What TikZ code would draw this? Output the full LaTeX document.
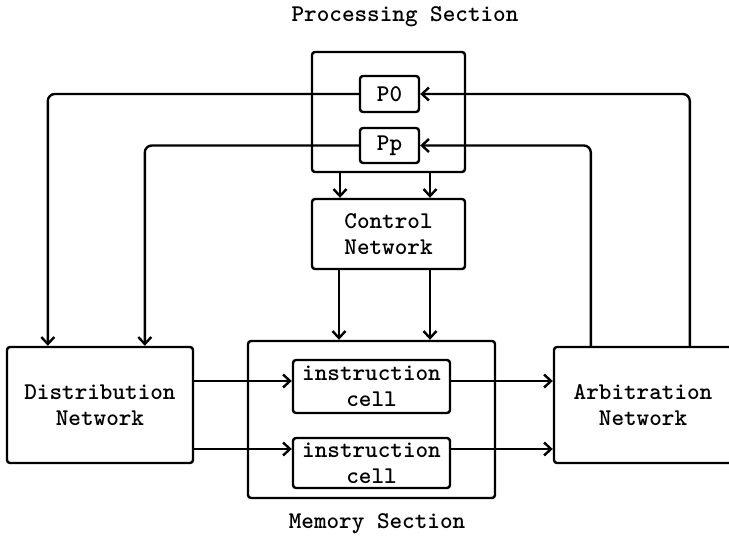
\documentclass[tikz,border=0pt]{standalone}
\usepackage{fontspec}
\usetikzlibrary{arrows.meta}
\begin{document}
\begin{tikzpicture}[x=1pt,y=-1pt,
  every node/.style={font=\ttfamily\bfseries\fontsize{24}{26}\selectfont},
  box/.style={draw, line width=2.4pt, rounded corners=3pt, inner sep=0pt, align=center},
  lbl/.style={inner sep=0pt, align=center},
  conn/.style={line width=2.4pt, rounded corners=7pt},
  arr/.style={conn, -{Straight Barb[length=7pt,width=13pt,line width=2.4pt]}}]
\useasboundingbox (0,0) rectangle (729,537);
\clip (0,0) rectangle (729,537);
\node[box, minimum width=153pt, minimum height=120pt] (proc) at (388.5,112) {};
\node[box, minimum width=59pt, minimum height=36pt] (p0) at (389.5,94) {P0};
\node[box, minimum width=59pt, minimum height=35pt] (pp) at (389.5,145.5) {Pp};
\node[lbl] (ptitle) at (405,17) {Processing Section};
\node[box, minimum width=153pt, minimum height=70pt] (ctrl) at (388.5,234) {Control\\Network};
\node[box, minimum width=247pt, minimum height=157pt] (mem) at (371.5,419.5) {};
\node[box, minimum width=157pt, minimum height=53pt] (cell1) at (371.5,386.5) {instruction\\cell};
\node[box, minimum width=157pt, minimum height=50pt] (cell2) at (371.5,463) {instruction\\cell};
\node[lbl] (mtitle) at (377,524) {Memory Section};
\node[box, minimum width=186pt, minimum height=116pt] (dist) at (100,405) {Distribution\\Network};
\node[box, minimum width=178pt, minimum height=116pt] (arb) at (643,405) {Arbitration\\Network};
% feedback loops
\draw[arr] (p0.west) -| ([xshift=42pt]dist.north west);
\draw[arr] (pp.west) -| ([xshift=139pt]dist.north west);
\draw[arr] ([xshift=137pt]arb.north west) |- (p0.east);
\draw[arr] ([xshift=38pt]arb.north west) |- (pp.east);
% processing -> control -> memory
\draw[arr] ([xshift=-48.5pt]proc.south) -- ([xshift=-48.5pt]ctrl.north);
\draw[arr] ([xshift=41.5pt]proc.south) -- ([xshift=41.5pt]ctrl.north);
\draw[arr] ([xshift=-49.5pt]ctrl.south) -- ([xshift=-49.5pt]ctrl.south |- mem.north);
\draw[arr] ([xshift=41.5pt]ctrl.south) -- ([xshift=41.5pt]ctrl.south |- mem.north);
% distribution -> cells -> arbitration
\draw[arr] (dist.east |- 0,381) -- (cell1.west |- 0,381);
\draw[arr] (dist.east |- 0,449) -- (cell2.west |- 0,449);
\draw[arr] (cell1.east |- 0,381) -- (arb.west |- 0,381);
\draw[arr] (cell2.east |- 0,449) -- (arb.west |- 0,449);
\end{tikzpicture}
\end{document}
